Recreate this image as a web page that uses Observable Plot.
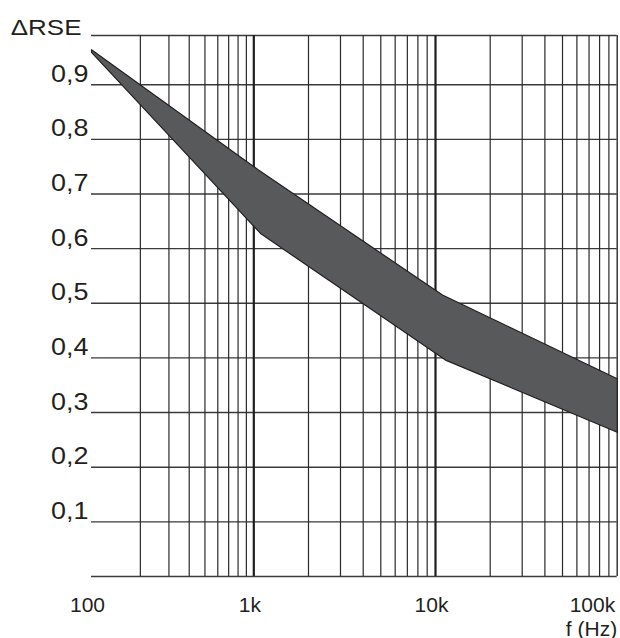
<!DOCTYPE html>
<html>
<head>
<meta charset="utf-8">
<script src="https://cdn.jsdelivr.net/npm/d3@7"></script>
<script src="https://cdn.jsdelivr.net/npm/@observablehq/plot@0.6"></script>
<style>
  body { margin: 0; background: #fff; }
  svg { display: block; }
</style>
</head>
<body>
<div id="chart"></div>
<script>
// ---- data ----
const decadeTicks = [100, 1000, 10000, 100000];
const decadeLabels = ["100", "1k", "10k", "100k"];
const minorMultipliers = [2, 3, 4, 5, 6, 7, 8, 9];
const yTicks = [0.1, 0.2, 0.3, 0.4, 0.5, 0.6, 0.7, 0.8, 0.9];
const yTickLabels = ["0,1", "0,2", "0,3", "0,4", "0,5", "0,6", "0,7", "0,8", "0,9"];
const yTop = 0.99;
const yTitle = "\u0394RSE";
const xTitle = "f (Hz)";

// upper and lower boundary of the shaded band
const upperFreq = [100, 1061, 10926, 100000];
const upperRSE  = [0.964, 0.744, 0.515, 0.362];
const lowerFreq = [100, 1095, 11352, 100000];
const lowerRSE  = [0.959, 0.627, 0.396, 0.264];

// ---- derived tables ----
const minorLines = decadeTicks.slice(0, 3).flatMap(d => minorMultipliers.map(m => m * d));
const band = [
  ...upperFreq.map((f, i) => ({f, r: upperRSE[i]})),
  ...lowerFreq.map((f, i) => ({f, r: lowerRSE[i]})).reverse()
];
const xLabelRows = decadeTicks.slice(0, 3).map((f, i) => ({f, t: decadeLabels[i]}));

const font = "'Liberation Sans', Arial, Helvetica, sans-serif";

const plot = Plot.plot({
  width: 620,
  height: 638,
  marginLeft: 91,
  marginRight: 3,
  marginTop: 35,
  marginBottom: 62,
  x: {type: "log", domain: decadeTicks, range: [91, 253.3, 435, 616.7], axis: null},
  y: {domain: [0, yTop], range: [576, 35], axis: null},
  style: {background: "#fff", fontFamily: font, color: "#231f20"},
  marks: [
    Plot.ruleY([0, ...yTicks, yTop], {x1: 100, x2: 100000, stroke: "#3a3a3a", strokeWidth: 1.4}),
    Plot.ruleX(minorLines, {y1: 0, y2: yTop, stroke: "#2a2a2a", strokeWidth: 1.2}),
    Plot.ruleX([1000, 10000], {y1: 0, y2: yTop, stroke: "#1e1e1e", strokeWidth: 2.2}),
    Plot.ruleX([100000], {y1: 0, y2: yTop, stroke: "#2a2a2a", strokeWidth: 1.4}),
    Plot.line(band, {x: "f", y: "r", curve: "linear-closed", fill: "#58595b", stroke: "#231f20", strokeWidth: 1.2}),
    Plot.text(yTicks, {x: 100, y: d => d, text: (d, i) => yTickLabels[i], textAnchor: "end", lineAnchor: "bottom",
      dx: -3, dy: -3, fontSize: 23, fill: "#231f20", ariaDescription: "ylabels"}),
    Plot.text([yTitle], {x: 100, y: yTop, text: d => d, textAnchor: "end", lineAnchor: "bottom",
      dx: -10, dy: -1, fontSize: 22, fill: "#231f20", ariaDescription: "ytitle"}),
    Plot.text(xLabelRows, {x: "f", y: 0, text: "t", textAnchor: "middle", lineAnchor: "bottom",
      dx: -4, dy: 35, fontSize: 21, fill: "#231f20"}),
    Plot.text([decadeLabels[3]], {x: decadeTicks[3], y: 0, text: d => d, textAnchor: "end", lineAnchor: "bottom",
      dx: -2, dy: 35, fontSize: 21, fill: "#231f20"}),
    Plot.text([xTitle], {x: decadeTicks[3], y: 0, text: d => d, textAnchor: "end", lineAnchor: "bottom",
      dx: 0, dy: 59, fontSize: 21, fill: "#231f20"})
  ]
});

document.getElementById("chart").appendChild(plot);

// the y-side labels in the reference are horizontally stretched
function stretch(sel, k) {
  plot.querySelectorAll(sel).forEach(el => {
    const w = el.getComputedTextLength();
    el.setAttribute("textLength", (w * k).toFixed(2));
    el.setAttribute("lengthAdjust", "spacingAndGlyphs");
  });
}
stretch('g[aria-description="ylabels"] text', 1.17);
stretch('g[aria-description="ytitle"] text', 1.18);
</script>
</body>
</html>
